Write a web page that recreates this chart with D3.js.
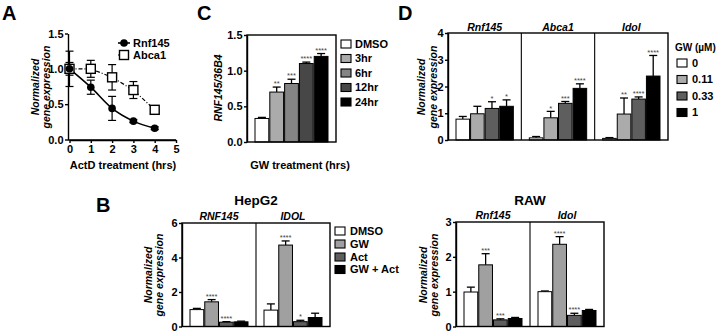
<!DOCTYPE html>
<html>
<head>
<meta charset="utf-8">
<script src="https://cdn.jsdelivr.net/npm/d3@7/dist/d3.min.js"></script>
<style>
  html, body { margin: 0; padding: 0; background: #fff; }
  svg { display: block; }
</style>
</head>
<body>
<svg id="chart" width="718" height="332"></svg>
<script>
// ---------------- DATA ----------------
// Panel A: ActD time course
const aTimes = [0, 1, 2, 3, 4];
const aXTicks = [0, 1, 2, 3, 4, 5];
const aYTicks = [0, 0.5, 1.0, 1.5];
const aRnf145 = [1.00, 0.74, 0.44, 0.26, 0.16];
const aRnf145Err = [0.25, 0.10, 0.17, 0.02, 0.02];
const aAbca1 = [1.00, 1.00, 0.88, 0.70, 0.42];
const aAbca1Err = [0.09, 0.12, 0.18, 0.12, 0.04];
const aSeriesNames = ["Rnf145", "Abca1"];

// Panel C: GW time course
const cLabels = ["DMSO", "3hr", "6hr", "12hr", "24hr"];
const cValues = [0.33, 0.70, 0.82, 1.10, 1.20];
const cErr = [0.015, 0.07, 0.06, 0.02, 0.04];
const cStars = ["", "**", "***", "****", "****"];
const cYTicks = [0, 0.5, 1.0, 1.5];

// Panel D: GW dose
const dGenes = ["Rnf145", "Abca1", "Idol"];
const dDoses = ["0", "0.11", "0.33", "1"];
const dRnf145 = [0.78, 0.98, 1.18, 1.26];
const dRnf145Err = [0.10, 0.28, 0.25, 0.24];
const dRnf145Stars = ["", "", "*", "*"];
const dAbca1 = [0.08, 0.83, 1.37, 1.93];
const dAbca1Err = [0.05, 0.24, 0.07, 0.17];
const dAbca1Stars = ["", "*", "***", "****"];
const dIdol = [0.06, 0.97, 1.53, 2.39];
const dIdolErr = [0.03, 0.60, 0.08, 0.77];
const dIdolStars = ["", "**", "****", "****"];
const dYTicks = [0, 1, 2, 3, 4];

// Panel B: HepG2 and RAW
const bTreatments = ["DMSO", "GW", "Act", "GW + Act"];
const hepGenes = ["RNF145", "IDOL"];
const hepRnf145 = [0.98, 1.43, 0.25, 0.27];
const hepRnf145Err = [0.07, 0.13, 0.03, 0.04];
const hepRnf145Stars = ["", "****", "****", ""];
const hepIdol = [0.95, 4.72, 0.28, 0.52];
const hepIdolErr = [0.36, 0.24, 0.08, 0.25];
const hepIdolStars = ["", "****", "*", ""];
const hepYTicks = [0, 2, 4, 6];

const rawGenes = ["Rnf145", "Idol"];
const rawRnf145 = [0.99, 1.77, 0.19, 0.23];
const rawRnf145Err = [0.14, 0.32, 0.03, 0.03];
const rawRnf145Stars = ["", "***", "***", ""];
const rawIdol = [1.00, 2.36, 0.32, 0.46];
const rawIdolErr = [0.02, 0.22, 0.06, 0.03];
const rawIdolStars = ["", "****", "****", ""];
const rawYTicks = [0, 1, 2, 3];

// ---------------- STYLE ----------------
const FONT = "'Liberation Sans', Arial, Helvetica, sans-serif";
const C_GRAYS = ["#ffffff", "#ababab", "#858585", "#474747", "#000000"];
const D_GRAYS = ["#ffffff", "#ababab", "#5e5e5e", "#000000"];
const B_GRAYS = ["#ffffff", "#a0a0a0", "#5e5e5e", "#000000"];
const AX_W = 1.4;

const svg = d3.select("#chart");
svg.append("rect").attr("width", 718).attr("height", 332).attr("fill", "#fff");

function txt(g, x, y, s, o = {}) {
  const t = g.append("text")
    .attr("x", x).attr("y", y)
    .attr("font-family", FONT)
    .attr("font-size", o.size || 10.5)
    .attr("font-weight", o.weight || "bold")
    .attr("font-style", o.italic ? "italic" : "normal")
    .attr("text-anchor", o.anchor || "start")
    .attr("dy", o.dy !== undefined ? o.dy : "0.35em")
    .attr("fill", o.fill || "#000")
    .text(s);
  return t;
}

function yTitle(g, x1, x2, cy, lines) {
  lines.forEach((s, i) => {
    const xx = i === 0 ? x1 : x2;
    g.append("text")
      .attr("transform", `translate(${xx},${cy}) rotate(-90)`)
      .attr("font-family", FONT).attr("font-size", 10.5)
      .attr("font-weight", "bold").attr("font-style", "italic")
      .attr("text-anchor", "middle").attr("dy", "0.35em")
      .text(s);
  });
}

function styleAxis(ax) {
  ax.selectAll("path.domain").attr("stroke", "#000").attr("stroke-width", AX_W);
  ax.selectAll(".tick line").attr("stroke", "#000").attr("stroke-width", AX_W);
  ax.selectAll(".tick text")
    .attr("font-family", FONT).attr("font-size", 11)
    .attr("font-weight", "bold").attr("fill", "#000");
}

function squareLegend(g, x, ys, labels, colors, textX) {
  labels.forEach((l, i) => {
    g.append("rect").attr("x", x).attr("y", ys[i] - 4).attr("width", 10).attr("height", 8)
      .attr("fill", colors[i]).attr("stroke", "#000").attr("stroke-width", 1.1);
    txt(g, textX, ys[i], l, { size: 11 });
  });
}

// Generic grouped bar panel
function barPanel(o) {
  const g = svg.append("g");
  const y = d3.scaleLinear().domain([0, o.max]).range([o.yBot, o.yTop]);
  const gx = d3.scaleBand().domain(o.groups.map(d => d.name)).range([o.x0, o.x1]);
  const n = o.groups[0].values.length;
  const inner = d3.scaleBand().domain(d3.range(n))
    .range([8, gx.bandwidth() - 8]).paddingInner(0.07);

  o.groups.forEach(grp => {
    grp.values.forEach((v, i) => {
      const bx = gx(grp.name) + inner(i);
      const bw = inner.bandwidth();
      const cx = bx + bw / 2;
      const top = y(v + grp.errs[i]);
      g.append("line").attr("x1", cx).attr("x2", cx).attr("y1", y(v)).attr("y2", top)
        .attr("stroke", "#000").attr("stroke-width", 1.3);
      g.append("line").attr("x1", cx - 4).attr("x2", cx + 4).attr("y1", top).attr("y2", top)
        .attr("stroke", "#000").attr("stroke-width", 1.3);
      g.append("rect").attr("x", bx).attr("y", y(v)).attr("width", bw)
        .attr("height", o.yBot - y(v))
        .attr("fill", o.colors[i]).attr("stroke", "#000").attr("stroke-width", 1);
      if (grp.stars[i]) {
        txt(g, cx, top - 3.5, grp.stars[i], { size: 7.5, weight: "normal", anchor: "middle", fill: "#444" });
      }
    });
    if (o.headers) {
      txt(g, gx(grp.name) + gx.bandwidth() / 2, o.headerY, grp.name, { italic: true, anchor: "middle", size: 10.5 });
    }
  });

  g.append("rect").attr("x", o.x0).attr("y", o.yTop).attr("width", o.x1 - o.x0)
    .attr("height", o.yBot - o.yTop).attr("fill", "none")
    .attr("stroke", "#000").attr("stroke-width", AX_W);
  o.groups.slice(1).forEach(grp => {
    g.append("line").attr("x1", gx(grp.name)).attr("x2", gx(grp.name))
      .attr("y1", o.yTop).attr("y2", o.yBot)
      .attr("stroke", "#000").attr("stroke-width", 1.1);
  });
  const ax = g.append("g").attr("transform", `translate(${o.x0},0)`)
    .call(d3.axisLeft(y).tickValues(o.ticks).tickSize(3).tickSizeOuter(0).tickPadding(1.5)
      .tickFormat(o.fmt));
  styleAxis(ax);
  return g;
}

// ---------------- PANEL LETTERS ----------------
txt(svg, 2, 13, "A", { size: 20 });
txt(svg, 197, 13, "C", { size: 20 });
txt(svg, 398, 13, "D", { size: 20 });
txt(svg, 96, 205, "B", { size: 20 });

// ---------------- PANEL A ----------------
(function () {
  const g = svg.append("g");
  const x = d3.scaleLinear().domain([0, 5]).range([69.5, 176]);
  const y = d3.scaleLinear().domain([0, 1.5]).range([139.5, 33.5]);
  const axY = g.append("g").attr("transform", "translate(68,0)")
    .call(d3.axisLeft(y).tickValues(aYTicks).tickSize(3).tickSizeOuter(0).tickPadding(1.5).tickFormat(d3.format(".1f")));
  styleAxis(axY);
  const axX = g.append("g").attr("transform", "translate(0,140)")
    .call(d3.axisBottom(x).tickValues(aXTicks).tickSize(3).tickSizeOuter(0).tickPadding(2).tickFormat(d3.format("d")));
  styleAxis(axX);
  g.append("line").attr("x1", 68).attr("x2", 176).attr("y1", 140).attr("y2", 140)
    .attr("stroke", "#000").attr("stroke-width", AX_W);

  function errs(vals, e) {
    vals.forEach((v, i) => {
      const cx = x(aTimes[i]);
      g.append("line").attr("x1", cx).attr("x2", cx).attr("y1", y(v - e[i])).attr("y2", y(v + e[i]))
        .attr("stroke", "#000").attr("stroke-width", 1.2);
      [v - e[i], v + e[i]].forEach(ev => {
        g.append("line").attr("x1", cx - 4).attr("x2", cx + 4).attr("y1", y(ev)).attr("y2", y(ev))
          .attr("stroke", "#000").attr("stroke-width", 1.2);
      });
    });
  }
  errs(aAbca1, aAbca1Err);
  errs(aRnf145, aRnf145Err);

  const lineAb = d3.line().x((d, i) => x(aTimes[i])).y(d => y(d));
  g.append("path").datum(aAbca1).attr("d", lineAb).attr("fill", "none")
    .attr("stroke", "#000").attr("stroke-width", 1.2).attr("stroke-dasharray", "4,2,1,2");
  const lineRn = d3.line().x((d, i) => x(aTimes[i])).y(d => y(d)).curve(d3.curveMonotoneX);
  g.append("path").datum(aRnf145).attr("d", lineRn).attr("fill", "none")
    .attr("stroke", "#000").attr("stroke-width", 1.6);

  aAbca1.forEach((v, i) => {
    g.append("rect").attr("x", x(aTimes[i]) - 4.5).attr("y", y(v) - 4.5).attr("width", 9).attr("height", 9)
      .attr("fill", "#fff").attr("stroke", "#000").attr("stroke-width", 1.4);
  });
  aRnf145.forEach((v, i) => {
    g.append("circle").attr("cx", x(aTimes[i])).attr("cy", y(v)).attr("r", 3.8).attr("fill", "#000");
  });

  g.append("line").attr("x1", 118).attr("x2", 130).attr("y1", 43).attr("y2", 43)
    .attr("stroke", "#000").attr("stroke-width", 1.6);
  g.append("circle").attr("cx", 124).attr("cy", 43).attr("r", 3.8).attr("fill", "#000");
  txt(g, 133, 43, aSeriesNames[0], { size: 11 });
  g.append("line").attr("x1", 118).attr("x2", 130).attr("y1", 55).attr("y2", 55)
    .attr("stroke", "#000").attr("stroke-width", 1.2).attr("stroke-dasharray", "2,2");
  g.append("rect").attr("x", 119.5).attr("y", 50.5).attr("width", 9).attr("height", 9)
    .attr("fill", "#fff").attr("stroke", "#000").attr("stroke-width", 1.4);
  txt(g, 133, 55, aSeriesNames[1], { size: 11 });

  yTitle(g, 35, 46.5, 87, ["Normalized", "gene expression"]);
  txt(g, 123, 165, "ActD treatment (hrs)", { anchor: "middle", size: 11 });
})();

// ---------------- PANEL C ----------------
(function () {
  const g = barPanel({
    x0: 247, x1: 336, yTop: 35, yBot: 142, max: 1.5, ticks: cYTicks,
    fmt: d3.format(".1f"),
    groups: [{ name: "GW", values: cValues, errs: cErr, stars: cStars }],
    colors: C_GRAYS, headers: false
  });
  g.append("text")
    .attr("transform", "translate(218,88) rotate(-90)")
    .attr("font-family", FONT).attr("font-size", 10.5)
    .attr("font-weight", "bold").attr("font-style", "italic")
    .attr("text-anchor", "middle").attr("dy", "0.35em")
    .text("RNF145/36B4");
  txt(g, 300, 165, "GW treatment (hrs)", { anchor: "middle", size: 11 });
  squareLegend(g, 341, [44, 58.5, 73, 87.5, 102], cLabels, C_GRAYS, 355);
})();

// ---------------- PANEL D ----------------
(function () {
  const g = barPanel({
    x0: 448, x1: 668, yTop: 33, yBot: 140, max: 4, ticks: dYTicks,
    fmt: d3.format("d"),
    groups: [
      { name: dGenes[0], values: dRnf145, errs: dRnf145Err, stars: dRnf145Stars },
      { name: dGenes[1], values: dAbca1, errs: dAbca1Err, stars: dAbca1Stars },
      { name: dGenes[2], values: dIdol, errs: dIdolErr, stars: dIdolStars }
    ],
    colors: D_GRAYS, headers: true, headerY: 27
  });
  yTitle(g, 421.5, 433, 87, ["Normalized", "gene expression"]);
  txt(g, 675, 47, "GW (\u00b5M)", { size: 10 });
  squareLegend(g, 677, [63, 79.5, 96, 112.5], dDoses, D_GRAYS, 692);
})();

// ---------------- PANEL B: HepG2 ----------------
(function () {
  const g = barPanel({
    x0: 182, x1: 330, yTop: 223, yBot: 326.5, max: 6, ticks: hepYTicks,
    fmt: d3.format("d"),
    groups: [
      { name: hepGenes[0], values: hepRnf145, errs: hepRnf145Err, stars: hepRnf145Stars },
      { name: hepGenes[1], values: hepIdol, errs: hepIdolErr, stars: hepIdolStars }
    ],
    colors: B_GRAYS, headers: true, headerY: 216.5
  });
  txt(g, 256, 200, "HepG2", { anchor: "middle", size: 13.5 });
  yTitle(g, 148, 159.5, 275, ["Normalized", "gene expression"]);
  squareLegend(g, 335, [231, 244, 257, 269.5], bTreatments, B_GRAYS, 350);
})();

// ---------------- PANEL B: RAW ----------------
(function () {
  const g = barPanel({
    x0: 456, x1: 604, yTop: 222, yBot: 326.5, max: 3, ticks: rawYTicks,
    fmt: d3.format("d"),
    groups: [
      { name: rawGenes[0], values: rawRnf145, errs: rawRnf145Err, stars: rawRnf145Stars },
      { name: rawGenes[1], values: rawIdol, errs: rawIdolErr, stars: rawIdolStars }
    ],
    colors: B_GRAYS, headers: true, headerY: 215
  });
  txt(g, 530, 200, "RAW", { anchor: "middle", size: 13.5 });
  yTitle(g, 423, 434.5, 275, ["Normalized", "gene expression"]);
})();
</script>
</body>
</html>
